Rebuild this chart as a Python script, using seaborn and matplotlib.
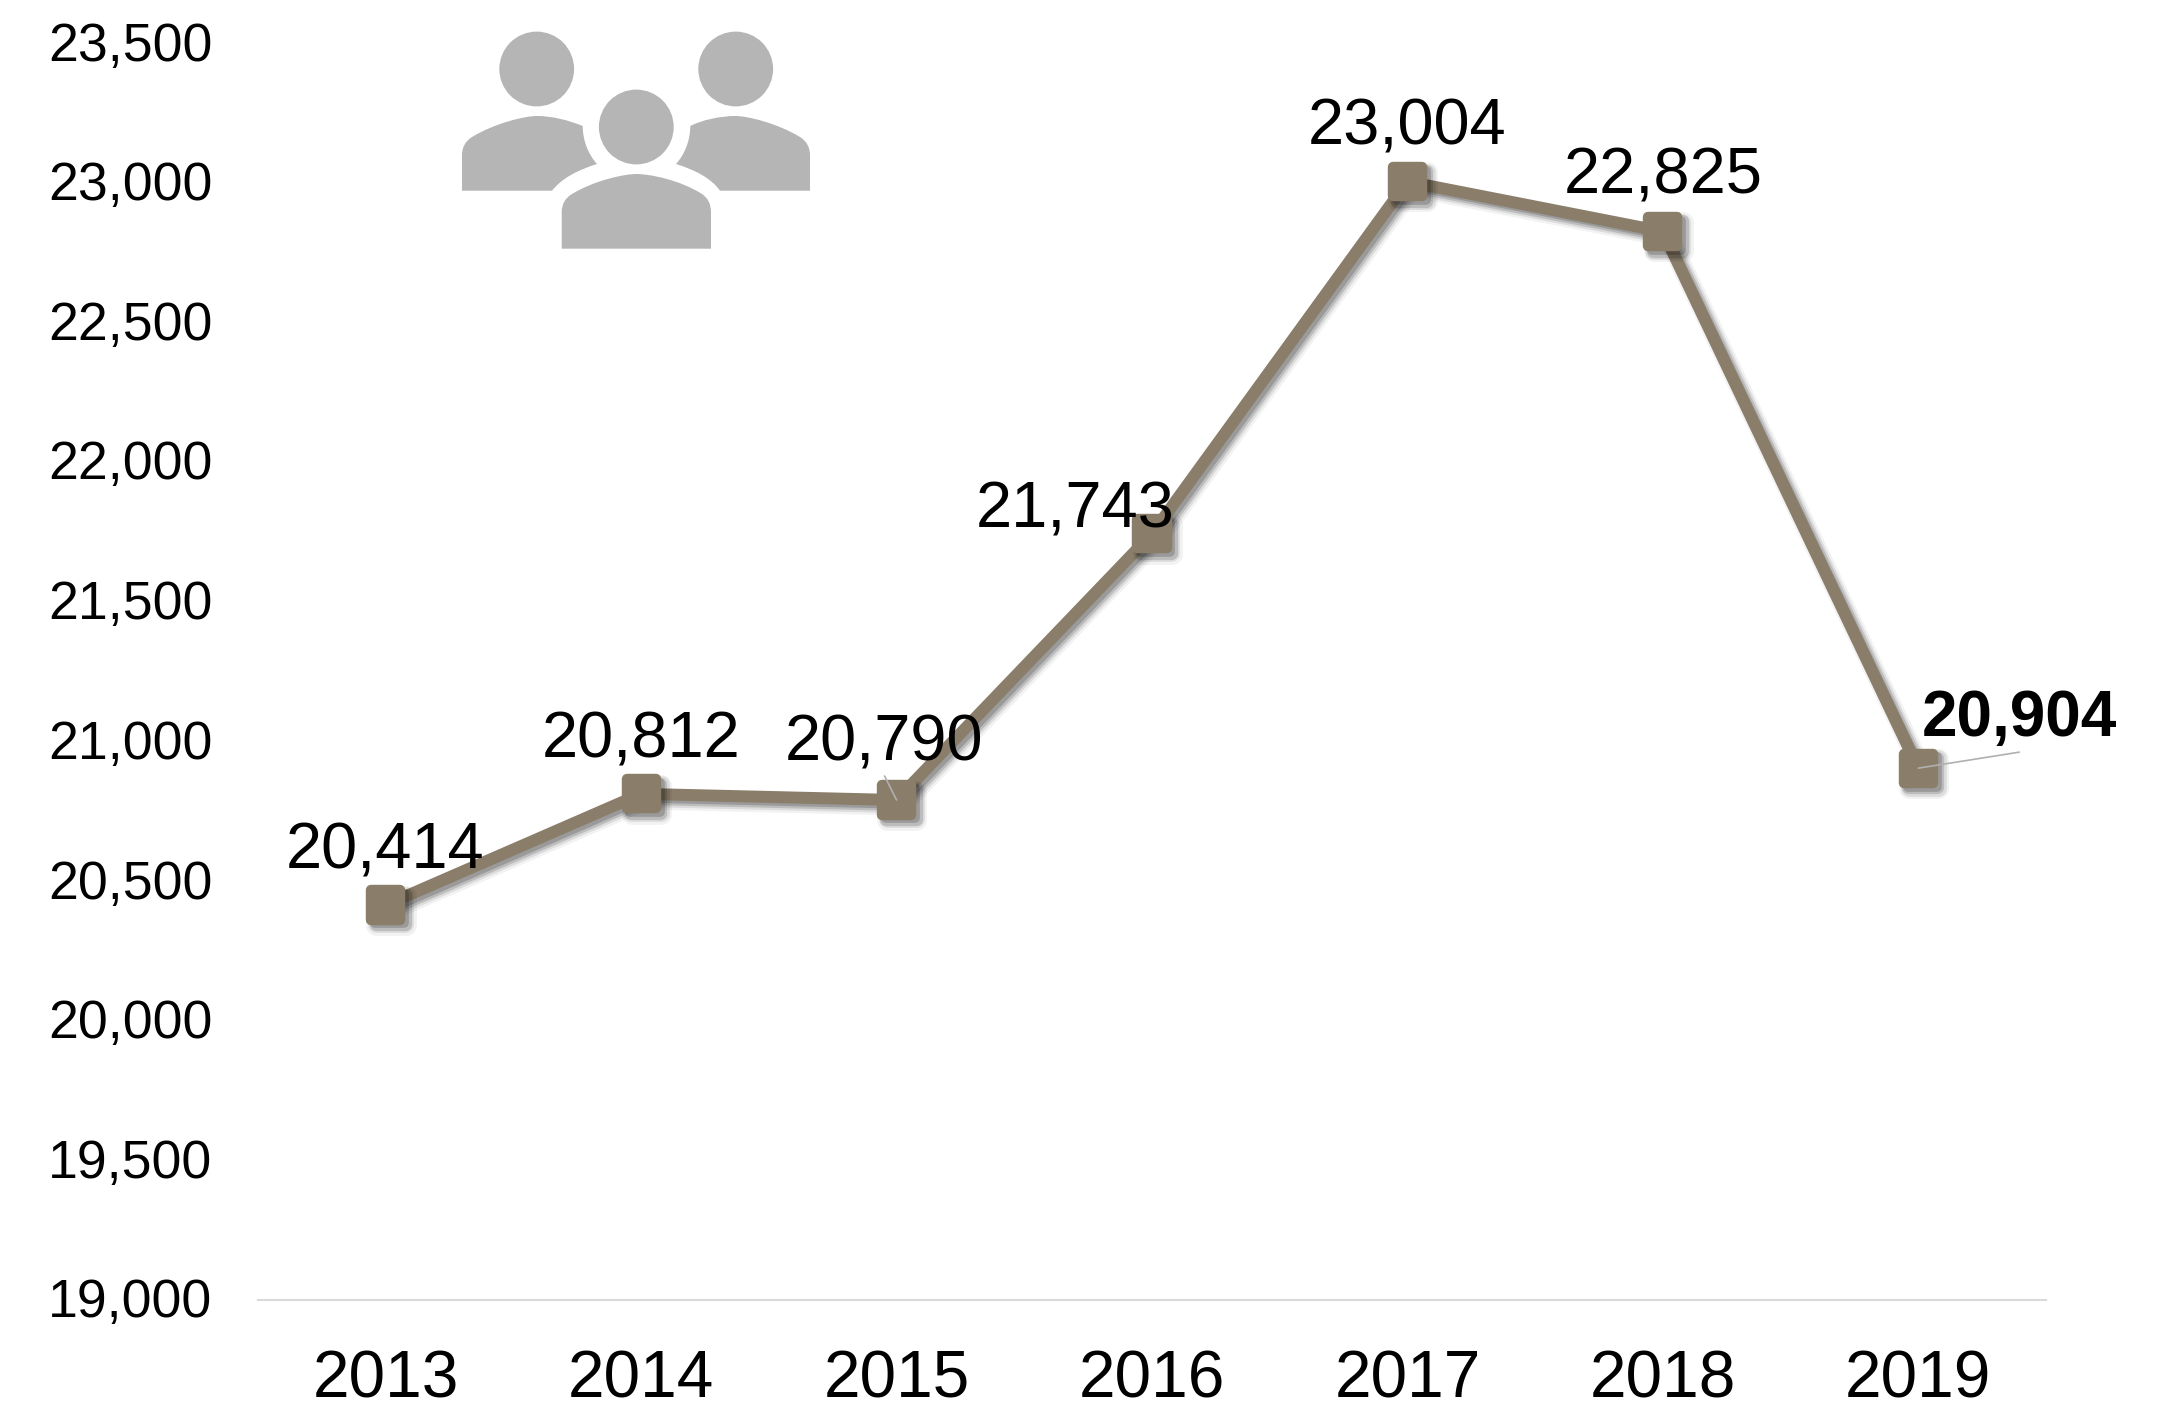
import pandas as pd
import matplotlib
matplotlib.use('Agg')
import matplotlib.pyplot as plt
import matplotlib.patheffects as pe
from matplotlib.markers import MarkerStyle
from matplotlib.patches import Circle, PathPatch
from matplotlib.path import Path
from matplotlib.transforms import ScaledTranslation
import seaborn as sns

years = ["2013", "2014", "2015", "2016", "2017", "2018", "2019"]
staff = [20414, 20812, 20790, 21743, 23004, 22825, 20904]
y_ticks = [19000, 19500, 20000, 20500, 21000, 21500, 22000, 22500, 23000, 23500]

# label offsets from the marker, in pixels
label_dx = [-1, 0, -13, -77, 0, 0, 101]
label_dy = [54, 53, 56, 23, 54, 55, 49]
label_weight = ["normal"] * 6 + ["bold"]
# thin leader lines, end point relative to the marker, in pixels
leaders = {2: (-12, 24), 6: (101, 16)}

line_color = "#8a7d69"
icon_color = "#b5b5b5"

sns.set_theme(style="white")
plt.rcParams["font.family"] = ["Liberation Sans", "DejaVu Sans"]

fig = plt.figure(figsize=(21.72, 14.04), dpi=100)
ax = fig.add_axes([258 / 2172, 1 - 1300 / 1404, (2046 - 258) / 2172, (1300 - 43) / 1404])

df = pd.DataFrame({"year": years, "staff": staff})
shadow = [
    pe.SimpleLineShadow(offset=(3.8, -3.8), shadow_color="#000000", alpha=0.05, linewidth=15),
    pe.SimpleLineShadow(offset=(3.5, -3.5), shadow_color="#000000", alpha=0.09, linewidth=12),
    pe.SimpleLineShadow(offset=(3.2, -3.2), shadow_color="#000000", alpha=0.14, linewidth=9.5),
    pe.SimpleLineShadow(offset=(2.8, -2.8), shadow_color="#000000", alpha=0.18, linewidth=7),
    pe.Normal(),
]
sns.lineplot(data=df, x="year", y="staff", ax=ax, color=line_color, linewidth=8.6,
             estimator=None, sort=False, path_effects=shadow)
line = ax.lines[0]
line.set_marker(MarkerStyle("s", joinstyle="round"))
line.set_markersize(21)
line.set_markeredgewidth(7.5)
line.set_markeredgecolor(line_color)
line.set_markerfacecolor(line_color)
line.set_solid_joinstyle("miter")

ax.set_xlim(-0.5, 6.5)
ax.set_ylim(19000, 23500)
ax.set_yticks(y_ticks)
ax.set_yticklabels([f"{v:,}" for v in y_ticks])
ax.set_xlabel("")
ax.set_ylabel("")
ax.tick_params(axis="y", length=0, pad=33, labelsize=38.6, labelcolor="black")
ax.tick_params(axis="x", length=0, pad=36, labelsize=47.3, labelcolor="black")
# y labels sit a touch above their gridline position
nudge = ScaledTranslation(0, 2 / 100, fig.dpi_scale_trans)
for lab in ax.get_yticklabels():
    lab.set_transform(lab.get_transform() + nudge)
sns.despine(ax=ax, left=True)
ax.spines["bottom"].set_color("#d9d9d9")
ax.spines["bottom"].set_linewidth(1.5)
ax.patch.set_alpha(0)

for i, (year, val) in enumerate(zip(years, staff)):
    if i in leaders:
        ax.annotate("", xy=(i, val), xytext=leaders[i], textcoords="offset pixels",
                    arrowprops=dict(arrowstyle="-", color="#b0b0b0", lw=1.2,
                                    shrinkA=0, shrinkB=0), zorder=5)
    ax.annotate(f"{val:,}", xy=(i, val), xytext=(label_dx[i], label_dy[i]),
                textcoords="offset pixels", ha="center", va="center",
                fontsize=46.8 if label_weight[i] == "normal" else 46,
                fontweight=label_weight[i], color="black", zorder=6)

# people icon, in reference pixels
icon = fig.add_axes([0, 0, 1, 1], zorder=-1)
icon.set_xlim(0, 2172)
icon.set_ylim(1404, 0)
icon.axis("off")
for cx, cy in [(536.7, 69), (735.7, 69), (636.3, 127)]:
    icon.add_patch(Circle((cx, cy), 37.4, fc=icon_color, ec="none"))

C3 = Path.CURVE3
C4 = Path.CURVE4
L = Path.LINETO
M = Path.MOVETO
Z = Path.CLOSEPOLY
middle = Path(
    [(561.7, 248.7), (561.7, 212), (561.7, 200), (572, 194), (595, 180), (625, 174), (636.3, 174),
     (650, 174), (680, 180), (702, 194), (711, 200), (711, 212), (711, 248.7), (561.7, 248.7)],
    [M, L, C3, C3, C4, C4, C4, C4, C4, C4, C3, C3, L, Z],
)
left = Path(
    [(462, 190.7), (462, 155), (462, 143), (472, 137), (495, 123), (525, 116), (536.7, 116),
     (552, 116), (568, 120), (582.7, 126), (582.7, 140), (588, 154), (597, 164),
     (578, 170), (562, 178), (552, 190.7), (462, 190.7)],
    [M, L, C3, C3, C4, C4, C4, C4, C4, C4, C4, C4, C4, C4, C4, C4, Z],
)
right = Path(
    [(810, 190.7), (810, 155), (810, 143), (800, 137), (777, 123), (747, 116), (735.7, 116),
     (720, 116), (702, 120), (690.3, 126), (690.3, 140), (685, 154), (676, 164),
     (695, 170), (711, 178), (720, 190.7), (810, 190.7)],
    [M, L, C3, C3, C4, C4, C4, C4, C4, C4, C4, C4, C4, C4, C4, C4, Z],
)
for body in [middle, left, right]:
    icon.add_patch(PathPatch(body, fc=icon_color, ec="none"))

fig.savefig("out.png", dpi=100)
